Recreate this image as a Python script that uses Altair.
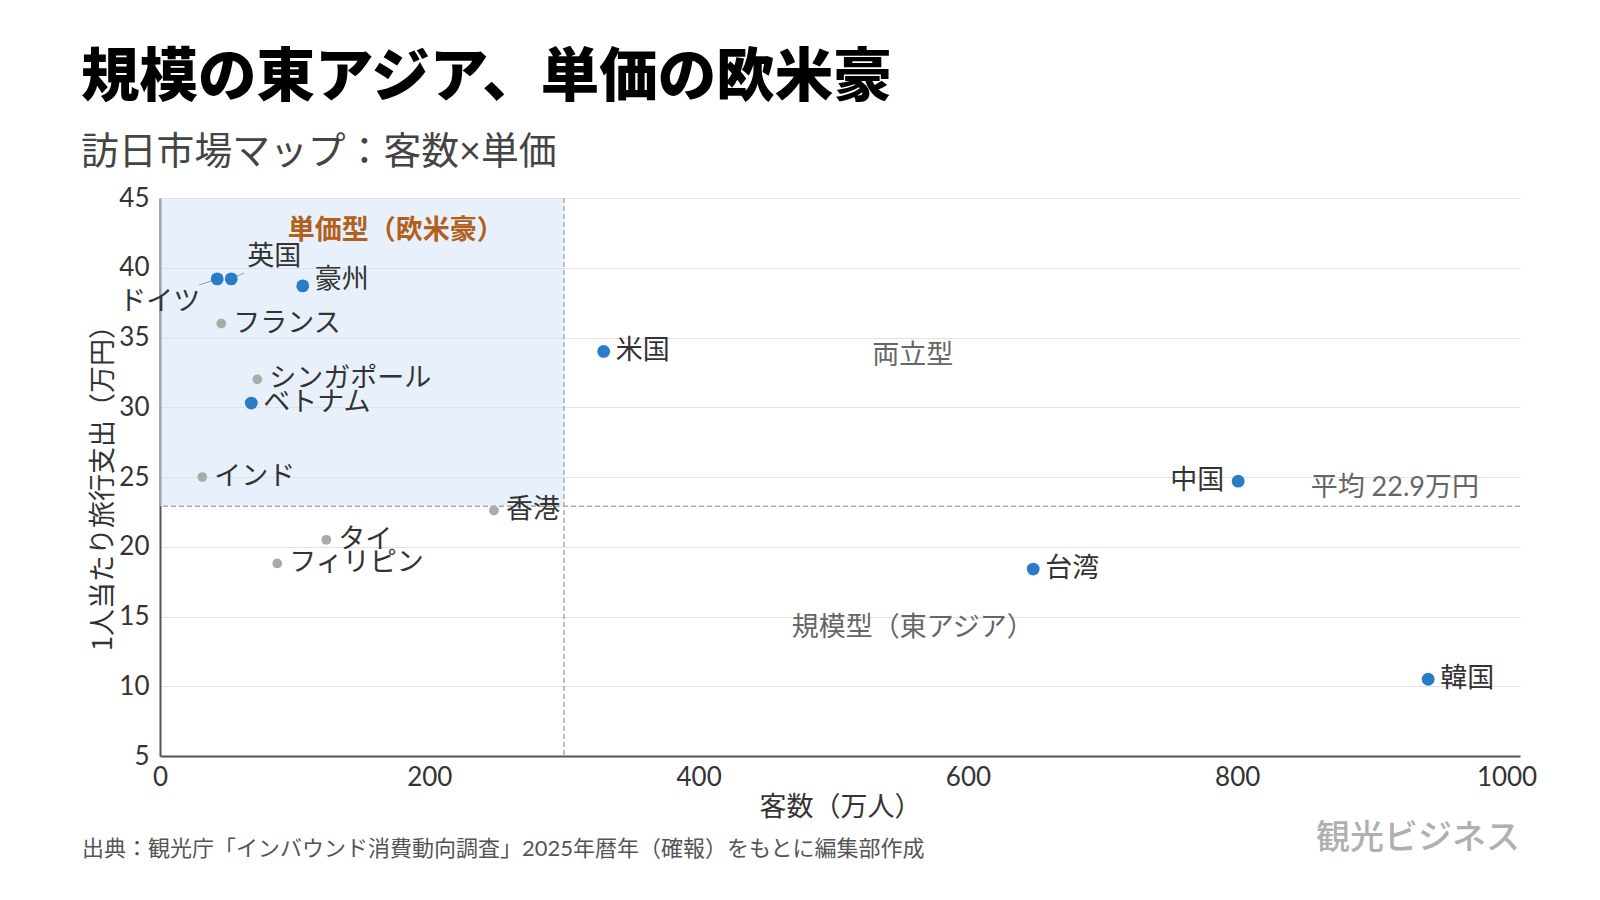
import altair as alt
import pandas as pd

# ---- data ----
countries = ["ドイツ", "英国", "豪州", "フランス", "シンガポール", "ベトナム", "インド",
             "香港", "タイ", "フィリピン", "米国", "台湾", "中国", "韓国"]
visitors = [42.5, 52.9, 106.0, 45.5, 72.3, 67.8, 31.4, 248.0, 123.5, 87.1, 329.5, 648.5, 800.7, 941.8]
spending = [39.2, 39.2, 38.7, 36.0, 32.0, 30.3, 25.0, 22.6, 20.5, 18.8, 34.0, 18.4, 24.7, 10.5]
groups = ["主要", "主要", "主要", "その他", "その他", "主要", "その他",
          "その他", "その他", "その他", "主要", "主要", "主要", "主要"]
placement = ["de", "uk", "up", "right", "right", "right", "right",
             "right", "right", "right", "right", "right", "left", "right"]

avg_spend = 22.9
visitor_split = 300
x_ticks = [0, 200, 400, 600, 800, 1000]
y_ticks = [5, 10, 15, 20, 25, 30, 35, 40, 45]
x_domain = [0, 1010]
y_domain = [5, 45]

quad_text = ["単価型（欧米豪）", "両立型", "規模型（東アジア）"]
quad_x = [175, 559, 559]
quad_y = [42.6, 33.65, 14.2]
quad_kind = ["main", "sub", "sub"]

title_text = "規模の東アジア、単価の欧米豪"
subtitle_text = "訪日市場マップ：客数×単価"
source_text = "出典：観光庁「インバウンド消費動向調査」2025年暦年（確報）をもとに編集部作成"
brand_text = "観光ビジネス"

FONT = "Lato, 'Noto Sans CJK JP', sans-serif"
CJK = "'Noto Sans CJK JP', sans-serif"
BLUE = "#2a7cc8"
GREY = "#aaaaaa"

df = pd.DataFrame({"国": countries, "客数": visitors, "単価": spending,
                   "区分": groups, "配置": placement})

xscale = alt.Scale(domain=x_domain, nice=False, zero=False)
yscale = alt.Scale(domain=y_domain, nice=False, zero=False)
xaxis = alt.Axis(values=x_ticks, format="d", grid=False, labelPadding=8, titlePadding=4,
                 title="客数（万人）")
yaxis = alt.Axis(values=y_ticks, format="d", grid=True, labelPadding=11, titlePadding=1,
                 titleY=283, title="1人当たり旅行支出（万円）")


def X(field):
    return alt.X(field, type="quantitative", scale=xscale, axis=xaxis)


def Y(field):
    return alt.Y(field, type="quantitative", scale=yscale, axis=yaxis)


# shaded quadrant
shade_df = pd.DataFrame({"x0": [x_domain[0]], "x1": [visitor_split],
                         "y0": [avg_spend], "y1": [y_domain[1]]})
shade = alt.Chart(shade_df).mark_rect(fill="#d6e6f7", opacity=0.55).encode(
    x=X("x0"), x2="x1", y=Y("y0"), y2="y1")

# dashed reference lines
hline = alt.Chart(pd.DataFrame({"avg": [avg_spend]})).mark_rule(
    color=GREY, strokeDash=[5, 3], strokeWidth=1.5).encode(y=Y("avg"))
vline = alt.Chart(pd.DataFrame({"split": [visitor_split]})).mark_rule(
    color=GREY, strokeDash=[5, 3], strokeWidth=1.5).encode(x=X("split"))

# leader lines for crowded labels
lead_de = alt.Chart(df).transform_filter(alt.datum["配置"] == "de").mark_rule(
    color="#999999", strokeWidth=1, x2Offset=-18, y2Offset=6).encode(
    x=X("客数"), x2="客数", y=Y("単価"), y2="単価")
lead_uk = alt.Chart(df).transform_filter(alt.datum["配置"] == "uk").mark_rule(
    color="#999999", strokeWidth=1, x2Offset=13, y2Offset=-6).encode(
    x=X("客数"), x2="客数", y=Y("単価"), y2="単価")

points = alt.Chart(df).mark_circle(opacity=1).encode(
    x=X("客数"), y=Y("単価"),
    color=alt.Color("区分:N", scale=alt.Scale(domain=["主要", "その他"], range=[BLUE, GREY]), legend=None),
    size=alt.Size("区分:N", scale=alt.Scale(domain=["主要", "その他"], range=[165, 95]), legend=None),
)


def labels(kind, **kw):
    return alt.Chart(df).transform_filter(alt.datum["配置"] == kind).mark_text(
        font=CJK, fontSize=27, color="#333333", baseline="middle", **kw).encode(
        x=X("客数"), y=Y("単価"), text="国:N")


lab_right = labels("right", align="left", dx=12)
lab_up = labels("up", align="left", dx=12, dy=-6)
lab_left = labels("left", align="right", dx=-14)
lab_de = labels("de", align="right", dx=-17, dy=23)
lab_uk = labels("uk", align="left", dx=16, dy=-22)

qdf = pd.DataFrame({"text": quad_text, "x": quad_x, "y": quad_y, "kind": quad_kind})
quad_main = alt.Chart(qdf).transform_filter(alt.datum.kind == "main").mark_text(
    font=CJK, fontSize=27, fontWeight="bold", color="#b2601c", align="center", baseline="middle").encode(
    x=X("x"), y=Y("y"), text="text:N")
quad_sub = alt.Chart(qdf).transform_filter(alt.datum.kind == "sub").mark_text(
    font=CJK, fontSize=27, color="#666666", align="center", baseline="middle").encode(
    x=X("x"), y=Y("y"), text="text:N")

avg_df = pd.DataFrame({"text": [f"平均 {avg_spend}万円"], "x": [917], "y": [avg_spend + 1.3]})
avg_label = alt.Chart(avg_df).mark_text(
    font=FONT, fontSize=27, color="#666666", align="center", baseline="middle").encode(
    x=X("x"), y=Y("y"), text="text:N")

source = alt.Chart(pd.DataFrame({"t": [source_text]})).mark_text(
    font=FONT, fontSize=22, color="#555555", align="left", baseline="middle").encode(
    x=alt.value(-78), y=alt.value(651), text="t:N")
brand = alt.Chart(pd.DataFrame({"t": [brand_text]})).mark_text(
    font=CJK, fontSize=34, fontWeight=500, color="#b0b0b0", align="right", baseline="middle").encode(
    x=alt.value(1360), y=alt.value(641), text="t:N")

chart = alt.layer(
    shade, hline, vline, lead_de, lead_uk, points,
    lab_right, lab_up, lab_left, lab_de, lab_uk,
    quad_main, quad_sub, avg_label, source, brand,
).properties(
    width=1360, height=558,
    autosize=alt.AutoSizeParams(type="none"),
    padding={"left": 160, "top": 198, "right": 80, "bottom": 144},
    title=alt.TitleParams(
        text=title_text, subtitle=subtitle_text, anchor="start", frame="group",
        dx=-79, offset=12, font=CJK, fontSize=58.5, fontWeight=900, color="#000000",
        subtitleFont=FONT, subtitleFontSize=37.8, subtitleColor="#444444", subtitlePadding=26,
    ),
).configure_view(stroke=None).configure_axis(
    labelFont=FONT, titleFont=CJK, labelFontSize=26, titleFontSize=27,
    labelColor="#333333", titleColor="#333333", titleFontWeight="normal",
    domainColor="#555555", domainWidth=2, ticks=False, tickSize=0,
    gridColor="#e3e3e3", gridWidth=1, labelFlush=False,
)

chart.save("out.html", embed_options={"renderer": "svg", "actions": False})
